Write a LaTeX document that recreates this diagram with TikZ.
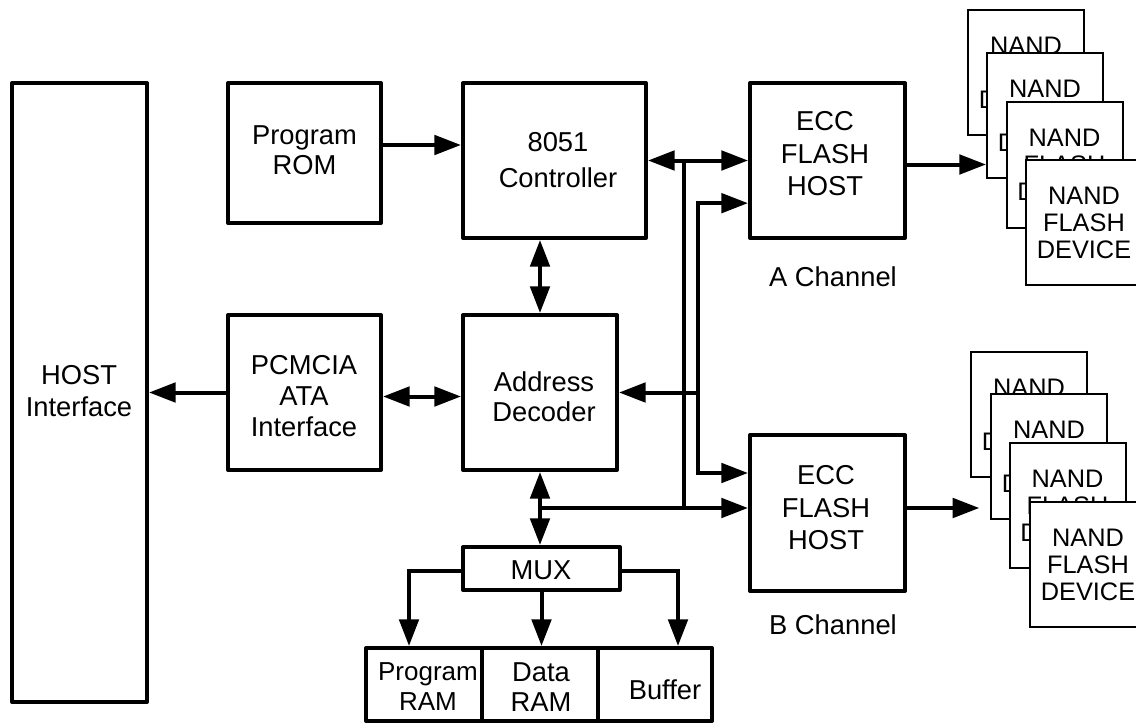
\documentclass[tikz,border=0pt]{standalone}
\usepackage{fontspec}
\setmainfont{Liberation Sans}
\usetikzlibrary{arrows.meta}
\newcommand{\myfs}[1]{\fontsize{20.5pt}{#1}\selectfont}
\begin{document}
\begin{tikzpicture}[x=0.75pt,y=-0.75pt,
  blk/.style={draw, line width=3pt, line join=round, fill=white, inner sep=0pt},
  nand/.style={draw, line width=1.5pt, fill=white, minimum width=87pt, minimum height=93.75pt,
    inner sep=0pt, align=center, font=\fontsize{19pt}{20.25pt}\selectfont},
  txt/.style={inner sep=0pt, align=center, font=\myfs{23.5pt}},
  ln/.style={line width=3pt},
  arr/.style={ln, -{Triangle[length=20pt,width=14.5pt]}},
  darr/.style={ln, {Triangle[length=20pt,width=14.5pt]}-{Triangle[length=20pt,width=14.5pt]}}
]
\useasboundingbox (0,0) rectangle (1136,724);
\clip (0,0) rectangle (1136,724);

% main blocks
\node[blk, minimum width=101.25pt, minimum height=464.25pt] (host) at (79.5,392.5) {};
\node[blk, minimum width=114.75pt, minimum height=105pt] (rom) at (304.5,153) {};
\node[blk, minimum width=114.75pt, minimum height=116.25pt] (pcm) at (304.5,392.5) {};
\node[blk, minimum width=137.25pt, minimum height=116.25pt] (ctrl) at (554.5,160.5) {};
\node[blk, minimum width=115.5pt, minimum height=116.25pt] (dec) at (540,392.5) {};
\node[blk, minimum width=116.25pt, minimum height=116.25pt] (eccA) at (827.5,160.5) {};
\node[blk, minimum width=116.25pt, minimum height=117pt] (eccB) at (827.5,513) {};
\node[blk, minimum width=117.75pt, minimum height=32.25pt] (mux) at (541.5,568.5) {};
\node[blk, minimum width=87pt, minimum height=54.75pt] (pram) at (424,684.5) {};
\node[blk, minimum width=87pt, minimum height=54.75pt] (dram) at (540,684.5) {};
\node[blk, minimum width=85.5pt, minimum height=54.75pt] (buf) at (655,684.5) {};

% texts
\node[txt, font=\myfs{24pt}] (hosttxt) at (79,391) {HOST\\Interface};
\node[txt, font=\myfs{22.5pt}] (romtxt) at (304.5,150) {Program\\ROM};
\node[txt, font=\myfs{23.5pt}] (pcmtxt) at (304,396) {PCMCIA\\ATA\\Interface};
\node[txt, font=\myfs{27pt}] (ctrltxt) at (558,160) {8051\\Controller};
\node[txt, font=\myfs{22.5pt}] (dectxt) at (544,397) {Address\\Decoder};
\node[txt, font=\myfs{24.4pt}] (eccAtxt) at (825,154) {ECC\\FLASH\\HOST};
\node[txt, font=\myfs{24.4pt}] (eccBtxt) at (826,508) {ECC\\FLASH\\HOST};
\node[txt] (muxtxt) at (541,570) {MUX};
\node[txt, font=\fontsize{19.5pt}{22.5pt}\selectfont] (pramtxt) at (428,687) {Program\\RAM};
\node[txt, font=\myfs{22.5pt}] (dramtxt) at (541,687) {Data\\RAM};
\node[txt] (buftxt) at (665,690) {Buffer};
\node[txt] (achan) at (833,277) {A Channel};
\node[txt] (bchan) at (833,625) {B Channel};

% NAND stacks
\node[nand] (a1) at (1026,72.5) {NAND\\FLASH\\DEVICE};
\node[nand] (a2) at (1045,115.5) {NAND\\FLASH\\DEVICE};
\node[nand] (a3) at (1064.5,165) {NAND\\FLASH\\DEVICE};
\node[nand] (a4) at (1084,222.5) {NAND\\FLASH\\DEVICE};
\node[nand] (b1) at (1029,414.5) {NAND\\FLASH\\DEVICE};
\node[nand] (b2) at (1049,456.5) {NAND\\FLASH\\DEVICE};
\node[nand] (b3) at (1067.5,505.5) {NAND\\FLASH\\DEVICE};
\node[nand] (b4) at (1088,564.5) {NAND\\FLASH\\DEVICE};

% junction coordinates
\coordinate (j1) at (684,160.5);
\coordinate (j2) at (684,508);
\coordinate (m1) at (540,508);
\coordinate (k3) at (698,392.5);

% connectors
\draw[arr] ([yshift=6pt]rom.east) -- ([yshift=6pt]rom.east -| ctrl.west);
\draw[darr] (ctrl.east) -- (eccA.west);
\draw[darr] (dec.north |- ctrl.south) -- (dec.north);
\draw[darr] ([yshift=-3pt]pcm.east) -- ([yshift=-3pt]pcm.east -| dec.west);
\draw[arr] (pcm.west) -- (pcm.west -| host.east);
\draw[darr] (dec.south) -- (dec.south |- mux.north);
\draw[ln] (j1) -- (j2);
\draw[arr] (m1) -- ([yshift=3.75pt]eccB.west);
\draw[arr] (k3) |- ([yshift=-32pt]eccA.west);
\draw[arr] (k3) |- ([yshift=30pt]eccB.west);
\draw[arr] (k3) -- (dec.east);
\draw[arr] ([yshift=-1.5pt]mux.west) -| ([xshift=-11.25pt]pram.north);
\draw[arr] (mux.south) -- (mux.south |- dram.north);
\draw[arr] ([yshift=-1.5pt]mux.east) -| ([xshift=17.25pt]buf.north);
\draw[arr] ([yshift=-3pt]eccA.east) -- ([yshift=-3pt]eccA.east -| a2.west);
\draw[arr, shorten >=8pt] ([yshift=3.75pt]eccB.east) -- ([yshift=3.75pt]eccB.east -| b2.west);
\end{tikzpicture}
\end{document}
